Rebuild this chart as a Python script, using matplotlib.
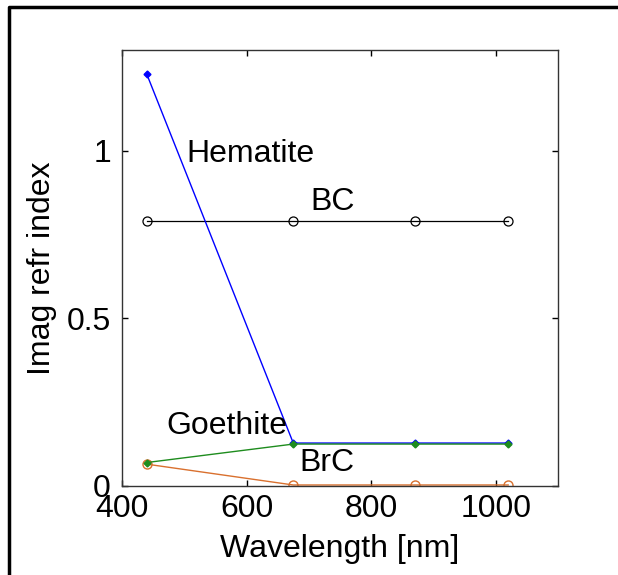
import matplotlib
matplotlib.use("Agg")
import matplotlib.pyplot as plt
from matplotlib.lines import Line2D

plt.rcParams['font.family'] = ['Liberation Sans', 'DejaVu Sans']

# wavelengths (nm)
wl = [440, 675, 870, 1020]

# imaginary refractive index per species
hematite = [1.227, 0.128, 0.128, 0.128]
goethite = [0.070, 0.125, 0.125, 0.125]
brc = [0.065, 0.003, 0.003, 0.003]
bc = [0.79, 0.79, 0.79, 0.79]

fs = 23

fig = plt.figure(figsize=(6.18, 5.75), dpi=100)
ax = fig.add_axes([0.1974, 0.1548, 0.7055, 0.7583])

ax.plot(wl, bc, color='k', lw=0.9, marker='o', ms=6.5, mfc='none', mec='k', mew=0.9)
ax.plot(wl, brc, color='#D9702E', lw=1.0, marker='o', ms=6.5, mfc='none', mec='#D9702E', mew=1.0)
ax.plot(wl, hematite, color='#0000FF', lw=1.0, marker='D', ms=3.5, mfc='#0000FF', mec='#0000FF')
ax.plot(wl, goethite, color='#1E8C1E', lw=1.0, marker='D', ms=3.5, mfc='#1E8C1E', mec='#1E8C1E')

ax.text(504, 0.99, 'Hematite', fontsize=fs, va='center', ha='left')
ax.text(702, 0.846, 'BC', fontsize=fs, va='center', ha='left')
ax.text(472, 0.179, 'Goethite', fontsize=fs, va='center', ha='left')
ax.text(684, 0.068, 'BrC', fontsize=fs, va='center', ha='left')

ax.set_xlim(400, 1100)
ax.set_ylim(0, 1.3)
ax.set_xticks([400, 600, 800, 1000])
ax.set_yticks([0, 0.5, 1])
ax.set_yticklabels(['0', '0.5', '1'])
ax.tick_params(direction='in', length=4, width=1, top=True, right=True, labelsize=fs)
ax.tick_params(axis='x', pad=6)
ax.tick_params(axis='y', pad=8)
for s in ax.spines.values():
    s.set_linewidth(1.0)
    s.set_color('#333333')

ax.set_xlabel('Wavelength [nm]', fontsize=fs, labelpad=7)
ax.set_ylabel('Imag refr index', fontsize=fs, labelpad=7)

# thick frame line on left and top of the figure
fig.add_artist(Line2D([8.5 / 618, 8.5 / 618, 1.1], [-0.1, 1 - 6.5 / 575, 1 - 6.5 / 575],
                      transform=fig.transFigure, color='k', lw=2.5))

fig.savefig('out.png', dpi=100)
